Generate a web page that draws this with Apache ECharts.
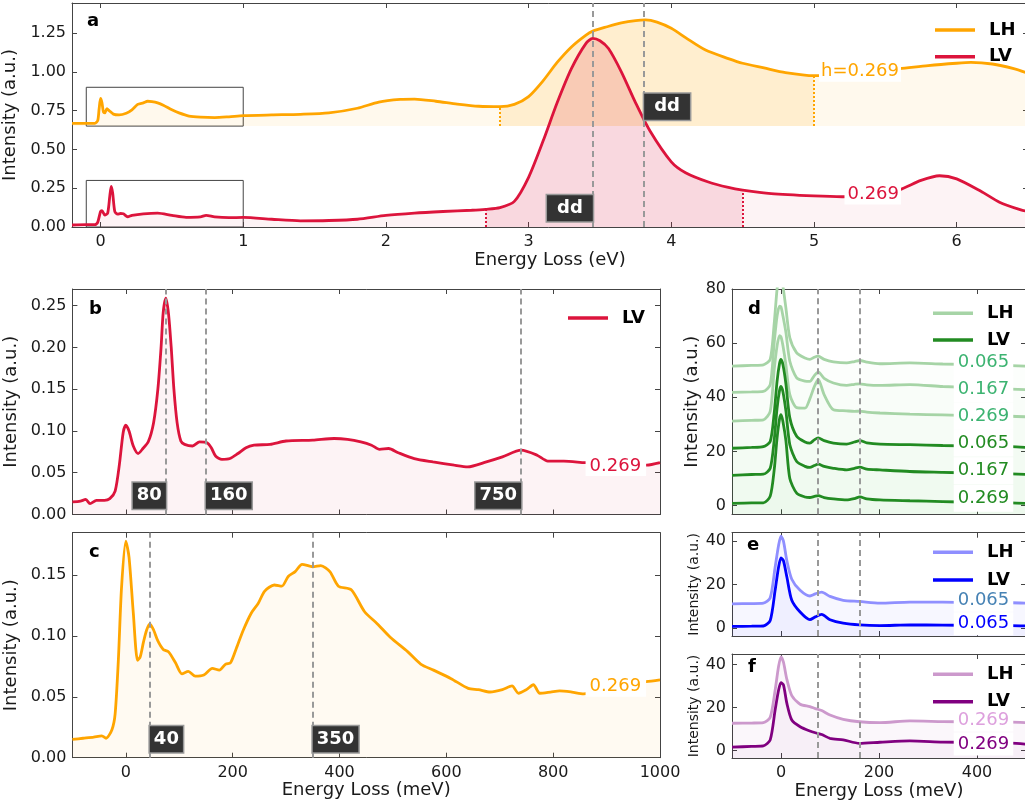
<!DOCTYPE html>
<html>
<head>
<meta charset="utf-8">
<script src="https://cdn.jsdelivr.net/npm/echarts@6/dist/echarts.min.js"></script>
<style>
html,body{margin:0;padding:0;background:#fff;}
#chart{width:1025px;height:807px;}
</style>
</head>
<body>
<div id="chart"></div>
<script>
// ---------- DATA ----------
// Panel a: energy loss (eV), intensity (a.u.)
const aLH = [[-0.2,0.668],[-0.1,0.668],[-0.04,0.668],[-0.02,0.685],[-0.01,0.76],[0.0,0.828],[0.01,0.80],[0.02,0.742],[0.03,0.735],[0.045,0.762],[0.06,0.75],[0.09,0.727],[0.13,0.722],[0.18,0.733],[0.22,0.755],[0.26,0.79],[0.3,0.8],[0.33,0.81],[0.36,0.808],[0.4,0.8],[0.44,0.785],[0.5,0.755],[0.55,0.735],[0.62,0.715],[0.7,0.708],[0.8,0.705],[0.9,0.71],[1.0,0.717],[1.2,0.722],[1.4,0.726],[1.6,0.735],[1.8,0.765],[1.95,0.805],[2.1,0.822],[2.2,0.824],[2.35,0.81],[2.5,0.792],[2.65,0.778],[2.8,0.775],[2.9,0.79],[3.0,0.84],[3.1,0.94],[3.2,1.06],[3.3,1.16],[3.4,1.235],[3.45,1.262],[3.55,1.29],[3.65,1.315],[3.75,1.33],[3.82,1.334],[3.9,1.32],[4.0,1.28],[4.1,1.22],[4.24,1.14],[4.4,1.085],[4.5,1.055],[4.65,1.025],[4.8,0.995],[5.0,0.975],[5.2,0.985],[5.4,1.005],[5.6,1.02],[5.8,1.04],[6.0,1.055],[6.1,1.06],[6.25,1.05],[6.4,1.02],[6.5,0.99]];
const aLV = [[-0.2,0.013],[-0.1,0.015],[-0.04,0.015],[-0.02,0.03],[0.0,0.1],[0.01,0.105],[0.03,0.077],[0.05,0.09],[0.065,0.2],[0.075,0.262],[0.085,0.22],[0.1,0.1],[0.12,0.083],[0.14,0.087],[0.16,0.085],[0.19,0.066],[0.22,0.075],[0.3,0.085],[0.4,0.09],[0.5,0.075],[0.6,0.062],[0.7,0.065],[0.74,0.075],[0.8,0.065],[0.9,0.06],[1.0,0.062],[1.2,0.05],[1.4,0.04],[1.6,0.042],[1.8,0.05],[2.0,0.075],[2.2,0.09],[2.4,0.1],[2.6,0.108],[2.7,0.114],[2.8,0.125],[2.9,0.165],[3.0,0.32],[3.1,0.55],[3.2,0.8],[3.3,1.02],[3.4,1.18],[3.45,1.215],[3.5,1.2],[3.56,1.15],[3.65,1.0],[3.75,0.8],[3.85,0.62],[4.0,0.42],[4.1,0.35],[4.26,0.29],[4.4,0.255],[4.5,0.238],[4.7,0.215],[5.0,0.2],[5.2,0.195],[5.4,0.2],[5.6,0.24],[5.75,0.3],[5.88,0.33],[6.0,0.31],[6.17,0.23],[6.3,0.16],[6.45,0.11],[6.5,0.1]];
// Panel b: LV, energy loss (meV)
const bLV = [[-100,0.015],[-85,0.016],[-75,0.018],[-67,0.013],[-55,0.017],[-40,0.017],[-30,0.019],[-20,0.028],[-12,0.06],[-5,0.098],[0,0.107],[6,0.1],[14,0.082],[23,0.073],[32,0.079],[42,0.087],[52,0.11],[60,0.15],[66,0.2],[70,0.242],[75,0.259],[80,0.24],[85,0.2],[90,0.15],[96,0.11],[103,0.088],[110,0.084],[125,0.082],[138,0.087],[152,0.086],[160,0.08],[168,0.07],[180,0.066],[195,0.067],[210,0.073],[225,0.08],[240,0.083],[270,0.084],[300,0.088],[350,0.089],[390,0.091],[415,0.09],[440,0.087],[460,0.083],[475,0.078],[492,0.079],[510,0.074],[540,0.067],[575,0.063],[615,0.059],[640,0.057],[675,0.063],[705,0.069],[740,0.077],[770,0.071],[790,0.064],[820,0.064],[860,0.062],[900,0.061],[940,0.06],[975,0.059],[1000,0.062]];
// Panel c: LH, energy loss (meV)
const cLH = [[-100,0.015],[-80,0.016],[-60,0.017],[-45,0.018],[-37,0.016],[-26,0.023],[-20,0.036],[-14,0.08],[-8,0.14],[0,0.178],[6,0.165],[14,0.119],[22,0.08],[27,0.083],[33,0.095],[39,0.105],[45,0.11],[52,0.105],[60,0.096],[70,0.089],[80,0.087],[93,0.078],[105,0.069],[117,0.071],[130,0.067],[146,0.068],[162,0.0735],[175,0.072],[187,0.077],[196,0.078],[207,0.09],[220,0.105],[235,0.119],[248,0.127],[260,0.137],[278,0.142],[292,0.141],[304,0.149],[317,0.153],[330,0.159],[350,0.157],[365,0.158],[382,0.153],[398,0.141],[422,0.138],[447,0.12],[471,0.11],[495,0.099],[528,0.087],[552,0.077],[576,0.072],[609,0.065],[641,0.057],[660,0.056],[682,0.054],[705,0.056],[723,0.059],[735,0.053],[750,0.056],[763,0.06],[775,0.053],[795,0.054],[812,0.055],[835,0.054],[857,0.0525],[900,0.058],[940,0.061],[974,0.0625],[1000,0.064]];
// Panel d: energy loss (meV) and six offset spectra
const dX      = [-100,-60,-36,-22,-14,-8,-3,0,4,10,18,32,49,59,68,76,88,107,134,150,161,175,202,263,330,400,470,500];
const dLH065  = [51.5,51.8,52,54,67,80,86,85,81,73,62,56.4,54.5,54,54.8,55.2,54,53.1,52.7,53.2,53.6,53,52.4,52.7,52.3,52,51.7,51.5];
const dLH167  = [41.8,42,42.2,44.7,60,70,73.7,73.4,70,64,53.3,47.2,46,45.9,48,49.4,47,45.3,44.4,44.8,45,44.6,44.4,44.7,44,43.5,43,42.8];
const dLH269  = [31.2,31.5,31.7,34.8,50,59,62.8,62.3,59,52,41,36.2,36,39.5,44,46.6,41,35.4,35,34.8,34.9,34.5,34.2,33.8,33.5,33.2,33,32.8];
const dLV065  = [21.2,21.5,21.8,23.7,34,46,52.5,54,52,45,32.4,25.6,23.5,23.1,24.3,25,24,23.1,22.7,23.5,24,23.2,22.7,22.5,22.2,22,21.8,21.5];
const dLV167  = [11.2,11.5,11.6,13.8,24,36,42.5,44,42,35,22.5,16.3,14.5,14.1,14.8,15.3,14.5,13.8,13.2,13.8,14.2,13.5,13.2,12.6,12.3,12,11.7,11.5];
const dLV269  = [0.8,1,1,3.5,13,25,32,33.6,31,24,10,4.6,3.2,3,3.4,3.7,3,2.5,2.1,2.6,3.2,2.5,2.1,1.8,1.5,1.2,1,0.8];
// Panels e, f
const efX = [-100,-60,-36,-22,-12,-5,0,5,12,22,39,59,70,83,100,127,160,202,263,330,400,470,500];
const eLH = [11.2,11.3,11.5,14,28,38,42.3,40,31,22.5,17.4,14.8,15.8,16.6,14.6,12.8,12.3,11.5,12,12,11.8,11.7,11.5];
const eLV = [0.8,0.9,1,3.5,17.4,28,32.3,31,23.5,12.8,7.4,3.9,5.2,6.3,3.9,2.3,1.5,1.2,1.5,1.4,1.3,1.2,1];
const fLH = [12.7,12.8,13,15.5,28,39,43.5,41,33,25.5,21.5,20.4,19.5,18.6,16.5,14.5,13.4,13,13.8,13.5,13.3,13.2,13];
const fLV = [1.6,2,2.2,5,18.8,28,31.5,30.5,21.9,14.2,11.1,9.1,8.3,7.5,5.7,5,3.4,3.9,4.5,4,3.8,3.5,3];
// Tick values
const aTicksX = [0,1,2,3,4,5,6];
const aTicksY = [0,0.25,0.5,0.75,1.0,1.25];
const bcTicksX = [0,200,400,600,800,1000];
const bTicksY = [0,0.05,0.10,0.15,0.20,0.25];
const cTicksY = [0,0.05,0.10,0.15];
const defTicksX = [0,200,400];
const dTicksY = [0,20,40,60,80];
const efTicksY = [0,20,40];
// Annotations
const aDashed = [3.45, 3.81];
const bDashed = [75, 150, 740];
const cDashed = [45, 350];
const defDashed = [76, 161];
const aBoxes = [[-0.1,0.65,1.0,0.9],[-0.1,0,1.0,0.3]];
const aLHBase = 0.65;
const aLHShade = [2.8, 5.0];
const aLVShade = [2.7, 4.5];
const ddTags = [['dd',3.45,0.12,'left'],['dd',3.81,0.775,'right']];
const bTags = [['80',75,0.0225,'left'],['160',150,0.0225,'right'],['750',740,0.0225,'left']];
const cTags = [['40',45,0.0152,'right'],['350',350,0.0152,'right']];

// ---------- STYLE ----------
const FONT = 'DejaVu Sans';
const FRAME = '#444';
const TXT = '#1a1a1a';
const ORANGE = '#FFA500', CRIMSON = '#DC143C';
const LW = 2.8;

const zip = (xs, ys) => xs.map((x, i) => [x, ys[i]]);
const valAt = (arr, x) => arr.find(p => p[0] === x)[1];
const within = (arr, r) => arr.filter(p => p[0] >= r[0] && p[0] <= r[1]);

const grids = [
  {left:72, top:3, width:956, height:224},
  {left:72.4, top:289, width:587.6, height:225.5},
  {left:72.4, top:532.7, width:587.6, height:225},
  {left:732, top:289, width:294, height:225.3},
  {left:732, top:532.7, width:294, height:103.3},
  {left:732, top:654, width:294, height:104}
].map(g => Object.assign({outerBoundsMode:'none', containLabel:false}, g));

const xAxes = [], yAxes = [];
function addAxes(g, dim, o) {
  const base = {
    type:'value', gridIndex:g, min:o.min, max:o.max,
    splitLine:{show:false},
    axisLine:{show:true, onZero:false, lineStyle:{color:FRAME, width:1}},
    axisTick:{show:true, inside:true, length:5, customValues:o.ticks, lineStyle:{color:FRAME, width:1}}
  };
  const main = Object.assign({}, base, {
    position: dim === 'x' ? 'bottom' : 'left',
    axisLabel:{show:o.labels !== false, customValues:o.ticks, formatter:o.fmt,
      fontSize:16, fontFamily:FONT, color:TXT, margin: dim === 'x' ? 7 : 6},
    name:o.name || '', nameLocation:'middle', nameGap:o.gap || 20,
    nameTextStyle:{fontSize:o.nameSize || 18, fontFamily:FONT, color:TXT}
  });
  if (dim === 'y') main.nameRotate = 90;
  const mirror = Object.assign({}, base, {position: dim === 'x' ? 'top' : 'right', axisLabel:{show:false}});
  (dim === 'x' ? xAxes : yAxes).push(main, mirror);
}
const f2 = v => v.toFixed(2);
const f0 = v => String(Math.round(v));
const YT = 'Intensity (a.u.)';
addAxes(0,'x',{min:-0.2,max:6.5,ticks:aTicksX,fmt:f0,name:'Energy Loss (eV)',gap:22});
addAxes(0,'y',{min:0,max:1.443,ticks:aTicksY,fmt:f2,name:YT,gap:45});
addAxes(1,'x',{min:-100,max:1000,ticks:bcTicksX,fmt:f0,labels:false});
addAxes(1,'y',{min:0,max:0.27,ticks:bTicksY,fmt:f2,name:YT,gap:45});
addAxes(2,'x',{min:-100,max:1000,ticks:bcTicksX,fmt:f0,name:'Energy Loss (meV)',gap:23});
addAxes(2,'y',{min:0,max:0.185,ticks:cTicksY,fmt:f2,name:YT,gap:45});
addAxes(3,'x',{min:-100,max:500,ticks:defTicksX,fmt:f0,labels:false});
addAxes(3,'y',{min:-3.2,max:80,ticks:dTicksY,fmt:f0,name:YT,gap:29});
addAxes(4,'x',{min:-100,max:500,ticks:defTicksX,fmt:f0,labels:false});
addAxes(4,'y',{min:-3.6,max:43.9,ticks:efTicksY,fmt:f0,name:YT,gap:30,nameSize:14});
addAxes(5,'x',{min:-100,max:500,ticks:defTicksX,fmt:f0,name:'Energy Loss (meV)',gap:19});
addAxes(5,'y',{min:-3.4,max:44.8,ticks:efTicksY,fmt:f0,name:YT,gap:30,nameSize:14});

const dashLine = vals => ({symbol:'none', silent:true, label:{show:false},
  lineStyle:{type:[6,4], color:'#999', width:2}, data: vals.map(v => ({xAxis:v}))});

function curve(g, name, data, color, fill, extra) {
  return Object.assign({
    type:'line', name, xAxisIndex:2*g, yAxisIndex:2*g, data,
    symbol:'none', smooth:0.25, lineStyle:{width:LW, color}, itemStyle:{color},
    areaStyle: fill ? fill : undefined, z:2, silent:true
  }, extra || {});
}
function shade(g, data, origin, color, xs, lineColor) {
  return {
    type:'line', xAxisIndex:2*g, yAxisIndex:2*g, data, symbol:'none', smooth:0.25,
    lineStyle:{width:0}, areaStyle:{origin, color}, z:1, silent:true,
    markLine:{symbol:'none', silent:true, label:{show:false},
      lineStyle:{type:'dotted', color:lineColor, width:2},
      data: xs.map(x => [{coord:[x, origin]}, {coord:[x, valAt(data, x)]}])}
  };
}
const boxStyle = {color:'#fff', fontWeight:'bold', fontSize:18, fontFamily:FONT,
  backgroundColor:'#333', borderColor:'#999', borderWidth:1.5, lineHeight:18, opacity:1};
function tags(g, list, style, pad) {
  return {
    type:'scatter', xAxisIndex:2*g, yAxisIndex:2*g, symbolSize:0, z:10, silent:true,
    itemStyle:{color:'rgba(0,0,0,0)', opacity:1},
    data: list.map(t => ({value:[t[1], t[2]],
      label:Object.assign({show:true, formatter:t[0], position:t[3], distance:0, padding:pad}, style)}))
  };
}
function valueLabels(g, list) {
  return {
    type:'scatter', xAxisIndex:2*g, yAxisIndex:2*g, symbolSize:0, z:11, silent:true,
    itemStyle:{color:'rgba(0,0,0,0)', opacity:1},
    data: list.map(t => ({value:[t[1], t[2]],
      label:{show:true, formatter:t[0], position:'left', distance:0, color:t[3], opacity:1,
        fontSize:18, fontFamily:FONT, backgroundColor:'#fff', padding:t[4], lineHeight:18}}))
  };
}

const series = [];
// ----- panel a -----
series.push(curve(0, 'LH_a', aLH, ORANGE, {origin:aLHBase, color:'rgba(255,165,0,0.10)'}, {
  markArea:{silent:true, itemStyle:{color:'rgba(0,0,0,0)', borderColor:'#444', borderWidth:1},
    data: aBoxes.map(b => [{coord:[b[0], b[1]]}, {coord:[b[2], b[3]]}])}
}));
series.push(shade(0, within(aLH, aLHShade), aLHBase, 'rgba(255,165,0,0.18)', aLHShade, ORANGE));
series.push(curve(0, 'LV_a', aLV, CRIMSON, {origin:0, color:'rgba(220,20,60,0.075)'}, {markLine:dashLine(aDashed)}));
series.push(shade(0, within(aLV, aLVShade), 0, 'rgba(220,20,60,0.17)', aLVShade, CRIMSON));
series.push(tags(0, ddTags, boxStyle, [4,10,4,10]));
series.push(valueLabels(0, [['h=0.269',5.61,1.0,ORANGE,[2,2,0,2]],['0.269',5.61,0.21,CRIMSON,[2,2,0,3]]]));
// ----- panel b -----
series.push(curve(1, 'LV_b', bLV, CRIMSON, {origin:0, color:'rgba(220,20,60,0.07)'}, {markLine:dashLine(bDashed)}));
series.push(tags(1, bTags, boxStyle, [4,4,4,4]));
series.push(valueLabels(1, [['0.269',974,0.058,CRIMSON,[2,5,0,4]]]));
// ----- panel c -----
series.push(curve(2, 'LH_c', cLH, ORANGE, {origin:0, color:'rgba(255,165,0,0.075)'}, {markLine:dashLine(cDashed)}));
series.push(tags(2, cTags, boxStyle, [4,4,4,4]));
series.push(valueLabels(2, [['0.269',974,0.0584,ORANGE,[2,5,0,4]]]));
// ----- panel d -----
const GL = '#a6d4a6', GD = '#228b22';
const gFill = {origin:'start', color:'rgba(34,139,34,0.016)'};
series.push(curve(3, 'LH_d', zip(dX, dLH065), GL, gFill, {markLine:dashLine(defDashed)}));
series.push(curve(3, 'LH_d2', zip(dX, dLH167), GL, gFill));
series.push(curve(3, 'LH_d3', zip(dX, dLH269), GL, gFill));
series.push(curve(3, 'LV_d', zip(dX, dLV065), GD, gFill));
series.push(curve(3, 'LV_d2', zip(dX, dLV167), GD, gFill));
series.push(curve(3, 'LV_d3', zip(dX, dLV269), GD, gFill));
const GT = '#3cb371';
series.push(valueLabels(3, [
  ['0.065',474,53,GT,[5,4,4,4]],['0.167',474,43.1,GT,[5,4,4,4]],['0.269',474,33,GT,[5,4,4,4]],
  ['0.065',474,23.1,GD,[5,4,4,4]],['0.167',474,12.9,GD,[5,4,4,4]],['0.269',474,2.7,GD,[5,4,4,4]]]));
// ----- panel e -----
const BL = '#8f8fff', BD = '#0000ff';
const bFill = {origin:'start', color:'rgba(0,0,255,0.045)'};
series.push(curve(4, 'LH_e', zip(efX, eLH), BL, bFill, {markLine:dashLine(defDashed)}));
series.push(curve(4, 'LV_e', zip(efX, eLV), BD, bFill));
series.push(valueLabels(4, [['0.065',474,12.8,'#4682b4',[3,4,2,4]],['0.065',474,2.0,BD,[3,4,2,4]]]));
// ----- panel f -----
const PL = '#cc99cc', PD = '#800080';
const pFill = {origin:'start', color:'rgba(128,0,128,0.045)'};
series.push(curve(5, 'LH_f', zip(efX, fLH), PL, pFill, {markLine:dashLine(defDashed)}));
series.push(curve(5, 'LV_f', zip(efX, fLV), PD, pFill));
series.push(valueLabels(5, [['0.269',474,14.2,'#dda0dd',[3,4,2,4]],['0.269',474,3.1,PD,[3,4,2,4]]]));

function legend(names, left, top, gap) {
  return {data:names, orient:'vertical', left, top, icon:'rect', itemWidth:40, itemHeight:3.5, itemGap:gap,
    formatter: n => n.split('_')[0], selectedMode:false,
    textStyle:{fontSize:18, fontWeight:'bold', fontFamily:FONT, color:'#000', lineHeight:18, padding:[0,0,0,9]}};
}
const legends = [
  legend(['LH_a','LV_a'], 930, 16, 8.7),
  legend(['LV_b'], 563, 304, 8),
  legend(['LH_d','LV_d'], 928, 299.3, 8.7),
  legend(['LH_e','LV_e'], 928, 538.3, 9.7),
  legend(['LH_f','LV_f'], 928, 660.3, 9.4)
];

const letters = [['a',87,12],['b',89,300],['c',89,543],['d',748,300],['e',747,536.7],['f',748,658]];
const graphic = letters.map(l => ({type:'text', x:l[1], y:l[2], z:100, silent:true,
  style:{text:l[0], font:'bold 18px "DejaVu Sans"', fill:'#000', textAlign:'left', textVerticalAlign:'top', align:'left', verticalAlign:'top'}}));

const chart = echarts.init(document.getElementById('chart'), null, {renderer:'canvas'});
chart.setOption({
  animation:false, backgroundColor:'#fff',
  textStyle:{fontFamily:FONT},
  grid:grids, xAxis:xAxes, yAxis:yAxes, series, legend:legends, graphic
});
</script>
</body>
</html>
